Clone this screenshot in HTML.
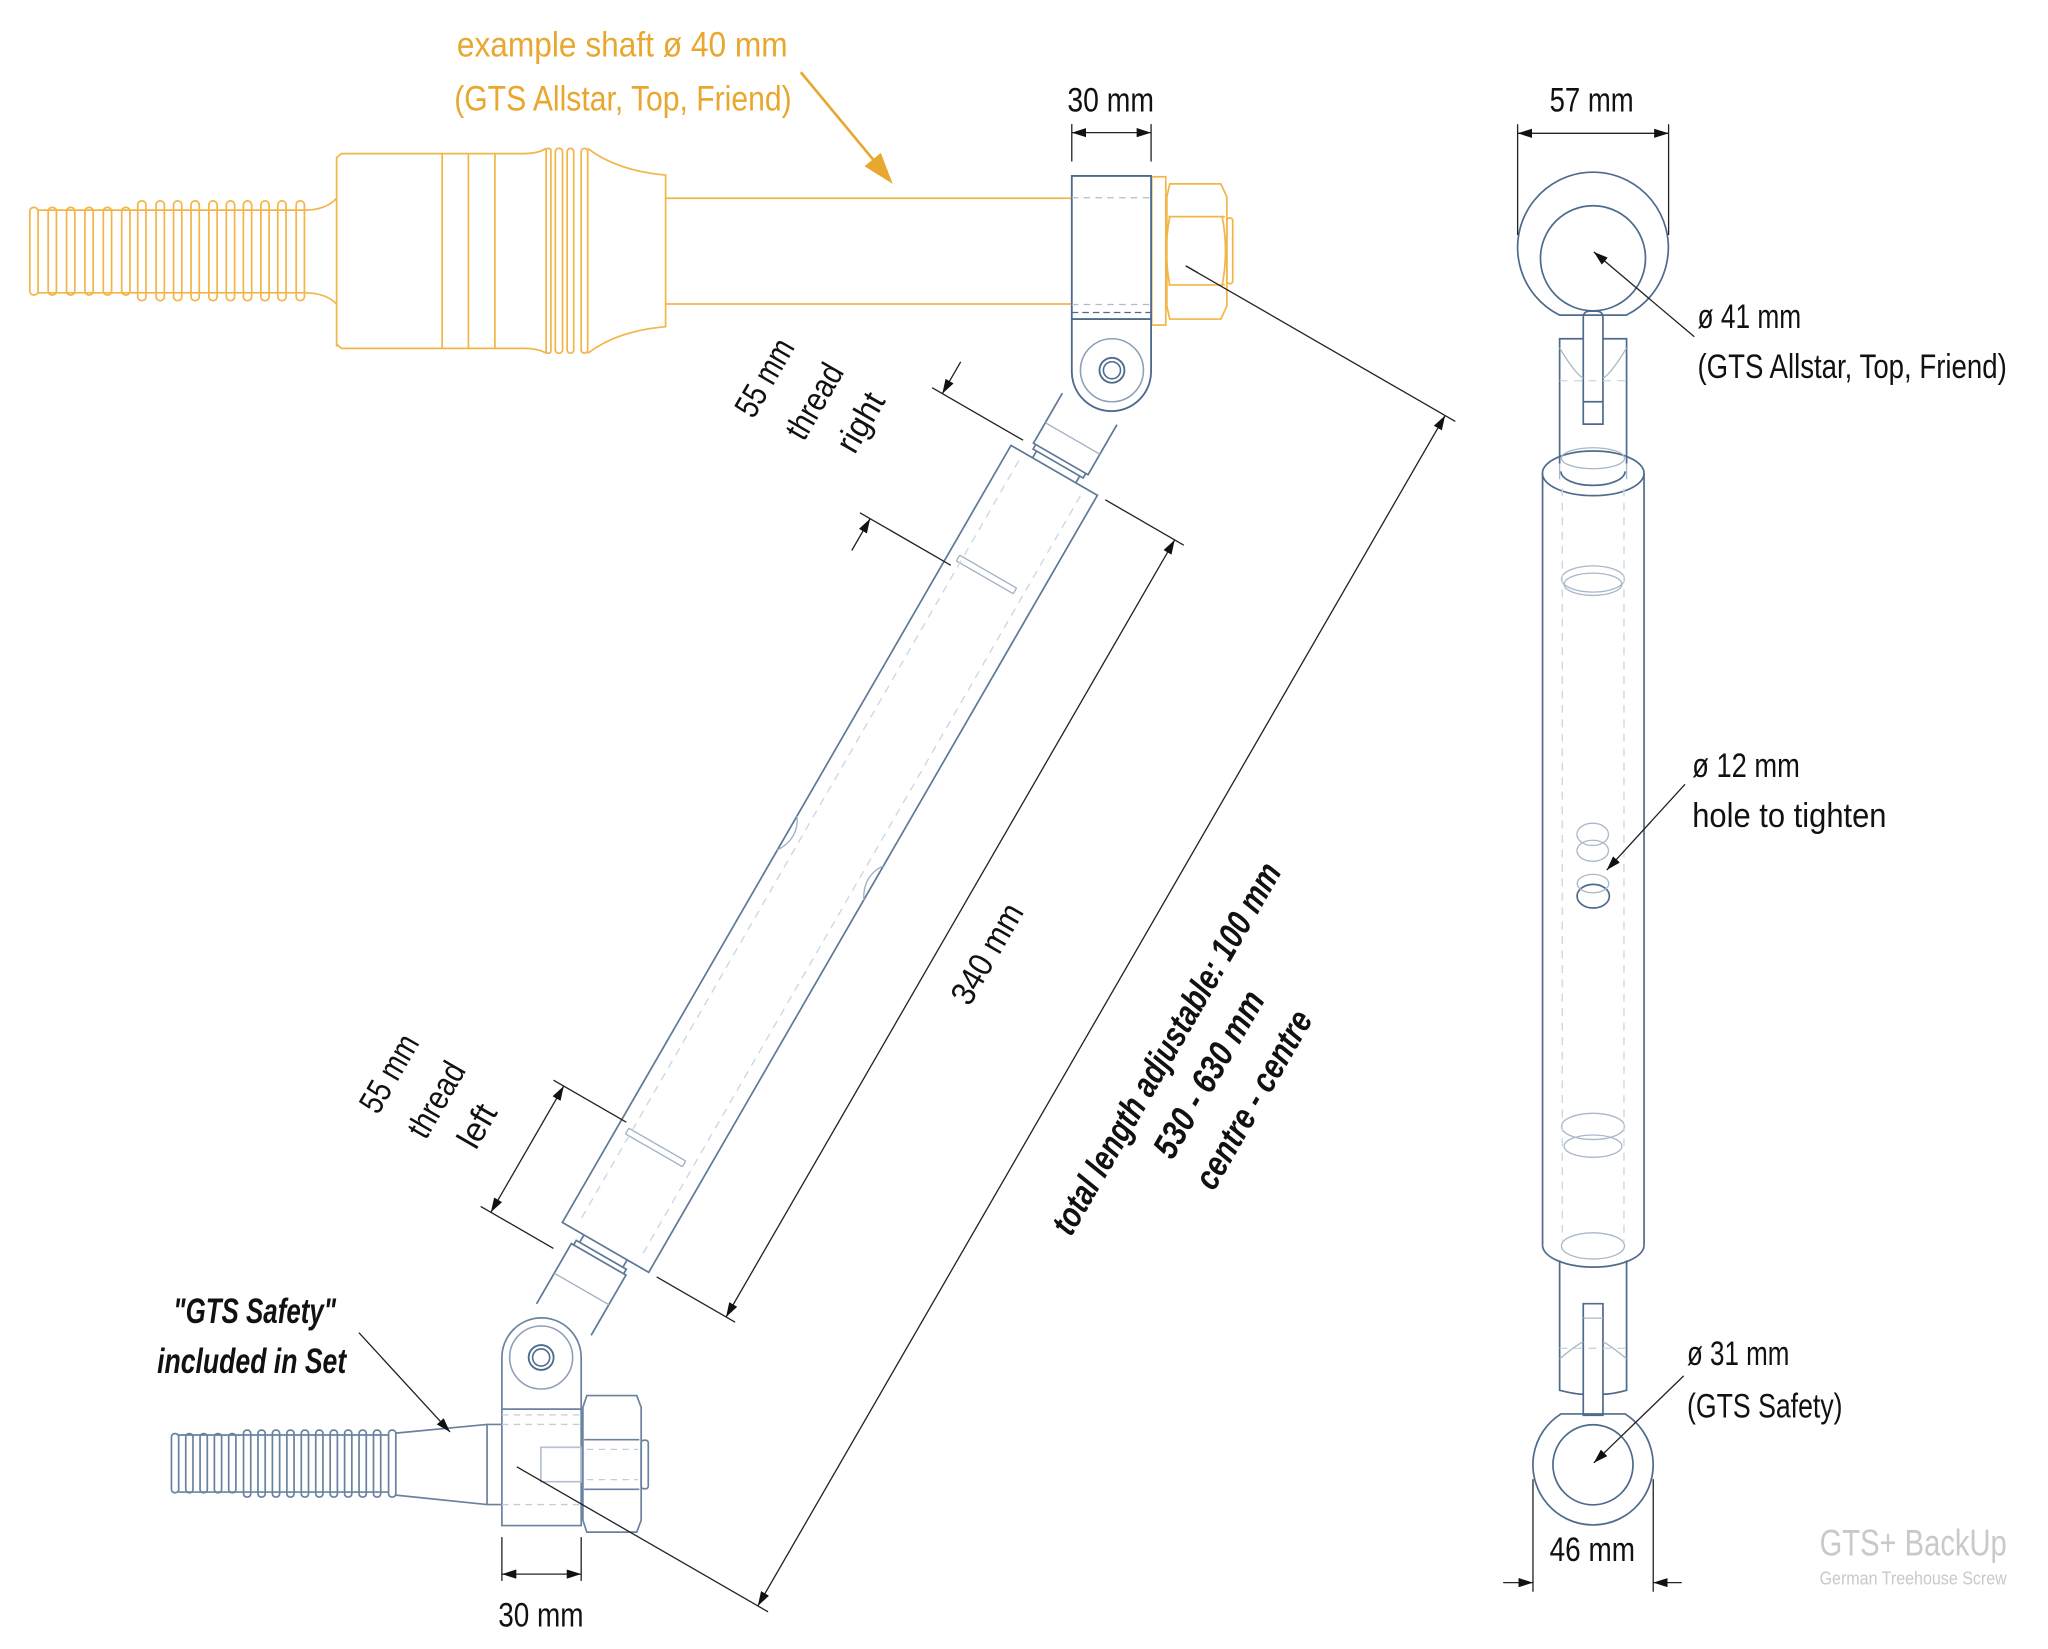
<!DOCTYPE html>
<html><head><meta charset="utf-8"><style>
html,body{margin:0;padding:0;background:#fff}
svg{display:block}
text{font-family:"Liberation Sans Narrow","Liberation Sans",sans-serif}
</style></head><body>
<svg width="2048" height="1649" viewBox="0 0 1560 1256" xmlns="http://www.w3.org/2000/svg">
<defs>
<marker id="a" markerUnits="userSpaceOnUse" markerWidth="11" markerHeight="7" refX="11" refY="3.5" orient="auto-start-reverse"><path d="M0,0 L11,3.5 L0,7 z" fill="#111"/></marker>
</defs>
<rect width="1560" height="1256" fill="#fff"/>

<!-- ===== Yellow shaft ===== -->
<g fill="none" stroke="#F2B547" stroke-width="1.3">
<g>
<rect x="22.7" y="157.9" width="6.3" height="66.8" rx="3"/>
<rect x="36.7" y="157.9" width="6.3" height="66.8" rx="3"/>
<rect x="50.7" y="157.9" width="6.3" height="66.8" rx="3"/>
<rect x="64.7" y="157.9" width="6.3" height="66.8" rx="3"/>
<rect x="78.7" y="157.9" width="6.3" height="66.8" rx="3"/>
<rect x="92.7" y="157.9" width="6.3" height="66.8" rx="3"/>
<rect x="104.9" y="153" width="6.3" height="76" rx="3"/>
<rect x="118.9" y="153" width="6.3" height="76" rx="3"/>
<rect x="132.2" y="153" width="6.3" height="76" rx="3"/>
<rect x="145.5" y="153" width="6.3" height="76" rx="3"/>
<rect x="159.1" y="153" width="6.3" height="76" rx="3"/>
<rect x="172.4" y="153" width="6.3" height="76" rx="3"/>
<rect x="185.4" y="153" width="6.3" height="76" rx="3"/>
<rect x="198.7" y="153" width="6.3" height="76" rx="3"/>
<rect x="211.6" y="153" width="6.3" height="76" rx="3"/>
<rect x="225.6" y="153" width="6.3" height="76" rx="3"/>
<line x1="29" y1="160" x2="232" y2="160"/>
<line x1="29" y1="223" x2="232" y2="223"/>
</g>
<path d="M232,160 Q248,160 256.4,151 M232,223 Q248,223 256.4,231.5"/>
<path d="M256.4,264 L256.4,120 L260,117 L398.7,117 Q410,117 416,113 M256.4,262 L260,265.3 L398.7,265.3 Q410,265.3 416,269"/>
<line x1="336.8" y1="117" x2="336.8" y2="265"/>
<line x1="356.8" y1="117" x2="356.8" y2="265"/>
<line x1="377" y1="117" x2="377" y2="265"/>
<rect x="416" y="113" width="3.6" height="156" rx="1.5"/>
<rect x="423" y="113" width="5.5" height="156" rx="2.5"/>
<rect x="432" y="113" width="5" height="156" rx="2.5"/>
<rect x="442.7" y="113" width="5" height="156" rx="2.5"/>
<path d="M447.7,113 Q470,130 507,133.3 L507,248.8 Q470,252 447.7,269.1"/>
<line x1="507" y1="151" x2="816" y2="151"/>
<line x1="507" y1="231.5" x2="816" y2="231.5"/>
<rect x="877.3" y="134.6" width="10.7" height="113"/>
<path d="M891,140 L930,140 L934.5,150 L934.5,233 L930,243 L891,243 L888.8,233 L888.8,150 Z"/>
<path d="M890,165 L933,165 M890,217 L933,217 M891,165 Q886,191 891,217 M931,165 Q936,191 931,217"/>
<rect x="934.5" y="166" width="4.5" height="50" rx="2"/>
</g>
<g fill="#E8A72E" font-size="27">
<text x="348" y="43" textLength="252" lengthAdjust="spacingAndGlyphs">example shaft ø 40 mm</text>
<text x="346" y="84" textLength="257" lengthAdjust="spacingAndGlyphs">(GTS Allstar, Top, Friend)</text>
</g>
<line x1="610" y1="55" x2="668" y2="125" stroke="#E8A72E" stroke-width="2"/>
<polygon points="680,140 658.5,126.6 670.9,116.4" fill="#E8A72E"/>

<!-- ===== Top collar ===== -->
<g stroke="#4F6B8C" stroke-width="1.4" fill="#fff">
<path d="M816.4,134 L876.8,134 L876.8,283 A30.2,30.2 0 0 1 816.4,283 Z" fill="none"/>
<line x1="816.4" y1="243" x2="876.8" y2="243"/>
</g>
<g stroke="#AFBCCC" stroke-width="1" fill="none" stroke-dasharray="5,4">
<line x1="816.4" y1="150.6" x2="876.8" y2="150.6"/>
<line x1="816.4" y1="231.9" x2="876.8" y2="231.9"/>
</g>
<line x1="816.4" y1="238" x2="876.8" y2="238" stroke="#4F6B8C" stroke-width="1" stroke-dasharray="5,3"/>

<!-- ===== Bottom collar ===== -->
<g stroke="#6A82A0" stroke-width="1.3" fill="none">
<path d="M382.3,1162 L382.3,1034 A30.2,30.2 0 0 1 442.7,1034 L442.7,1162 Z"/>
<line x1="382.3" y1="1073.3" x2="442.7" y2="1073.3"/>
<rect x="412" y="1102.4" width="30.5" height="26.2" stroke="#B5C1D0"/>
<path d="M447,1063 L485,1063 L488.4,1072 L488.4,1158 L485,1167 L447,1167 L444,1158 L444,1072 Z"/>
<path d="M445,1096.6 L487,1096.6 M445,1134.4 L487,1134.4"/>
<rect x="488.4" y="1097" width="5.4" height="37" rx="2"/>
<rect x="130.6" y="1092" width="5.5" height="45" rx="2.5"/>
<rect x="141.5" y="1092" width="5.5" height="45" rx="2.5"/>
<rect x="152.4" y="1092" width="5.5" height="45" rx="2.5"/>
<rect x="163.3" y="1092" width="5.5" height="45" rx="2.5"/>
<rect x="174.2" y="1092" width="5.5" height="45" rx="2.5"/>
<rect x="185.5" y="1089.3" width="5.5" height="51" rx="2.5"/>
<rect x="196.5" y="1089.3" width="5.5" height="51" rx="2.5"/>
<rect x="207.5" y="1089.3" width="5.5" height="51" rx="2.5"/>
<rect x="218.5" y="1089.3" width="5.5" height="51" rx="2.5"/>
<rect x="229.5" y="1089.3" width="5.5" height="51" rx="2.5"/>
<rect x="240.5" y="1089.3" width="5.5" height="51" rx="2.5"/>
<rect x="251.5" y="1089.3" width="5.5" height="51" rx="2.5"/>
<rect x="262.5" y="1089.3" width="5.5" height="51" rx="2.5"/>
<rect x="273.5" y="1089.3" width="5.5" height="51" rx="2.5"/>
<rect x="284.5" y="1089.3" width="5.5" height="51" rx="2.5"/>
<rect x="296" y="1089.3" width="5.5" height="51" rx="2.5"/>
<line x1="136" y1="1093" x2="296" y2="1093"/>
<line x1="136" y1="1136.5" x2="296" y2="1136.5"/>
<path d="M301.5,1091.6 L371,1085 L382.3,1085 M301.5,1138.8 L371,1146 L382.3,1146 M371,1085 L371,1146"/>
</g>
<g stroke="#C3CDD9" stroke-width="1" fill="none" stroke-dasharray="5,4">
<line x1="382.3" y1="1077.7" x2="442.7" y2="1077.7"/>
<line x1="382.3" y1="1085" x2="442.7" y2="1085"/>
<line x1="382.3" y1="1146" x2="442.7" y2="1146"/>
<line x1="447" y1="1104" x2="486" y2="1104"/>
<line x1="447" y1="1127" x2="486" y2="1127"/>
</g>

<!-- ===== Diagonal turnbuckle ===== -->
<g transform="translate(847,282) rotate(30)">
<g stroke="#5E7898" stroke-width="1.3" fill="none">
<rect x="-38" y="88" width="76" height="683.5"/>
<path d="M-24,34 L-24,78 L24,78 L24,34"/>
<path d="M-22,78 L-22,82 L22,82 L22,78 M-19,82 L-19,88 M19,82 L19,88"/>
<path d="M-24,835 L-24,782 L24,782 L24,835"/>
<path d="M-22,782 L-22,778 L22,778 L22,782 M-19,778 L-19,771.5 M19,778 L19,771.5"/>
</g>
<g stroke="#9FB0C4" stroke-width="1" fill="none">
<line x1="-24" y1="60" x2="24" y2="60"/>
<line x1="-24" y1="808" x2="24" y2="808"/>
<path d="M-30,180 L20,180 M-30,185 L20,185 M-30,180 L-30,185 M20,180 L20,185"/>
<path d="M-30,684 L20,684 M-30,689 L20,689 M-30,684 L-30,689 M20,684 L20,689"/>
<path d="M-38,414 Q-28,428 -38,444"/>
<path d="M38,414 Q28,428 38,444"/>
</g>
<g stroke="#CCD5E0" stroke-width="1" fill="none" stroke-dasharray="6,5">
<line x1="-27" y1="95" x2="-27" y2="765"/>
<line x1="27" y1="95" x2="27" y2="765"/>
</g>
<g stroke="#222" stroke-width="1" fill="none">
<line x1="45" y1="88" x2="114" y2="88"/>
<line x1="45" y1="771.5" x2="114" y2="771.5"/>
<line x1="106" y1="88" x2="106" y2="771.5" marker-start="url(#a)" marker-end="url(#a)"/>
<line x1="9" y1="-97" x2="246" y2="-97"/>
<line x1="25" y1="950" x2="246" y2="950"/>
<line x1="237" y1="-97" x2="237" y2="950" marker-start="url(#a)" marker-end="url(#a)"/>
<line x1="-112" y1="80" x2="-32" y2="80"/>
<line x1="-112" y1="190" x2="-32" y2="190"/>
<line x1="-103" y1="52" x2="-103" y2="80" marker-end="url(#a)"/>
<line x1="-103" y1="218" x2="-103" y2="190" marker-end="url(#a)"/>
<line x1="-98" y1="681" x2="-34" y2="681"/>
<line x1="-98" y1="792" x2="-34" y2="792"/>
<line x1="-89" y1="681" x2="-89" y2="792" marker-start="url(#a)" marker-end="url(#a)"/>
</g>
</g>

<g fill="none">
<circle cx="847" cy="282" r="24" stroke="#8DA0B8" stroke-width="1.2"/>
<circle cx="847" cy="282" r="9.5" stroke="#4F6B8C" stroke-width="1.4"/>
<circle cx="847" cy="282" r="6.5" stroke="#4F6B8C" stroke-width="1.2"/>
<circle cx="412.2" cy="1034" r="24" stroke="#8DA0B8" stroke-width="1.2"/>
<circle cx="412.2" cy="1034" r="9.5" stroke="#4F6B8C" stroke-width="1.4"/>
<circle cx="412.2" cy="1034" r="6.5" stroke="#4F6B8C" stroke-width="1.2"/>
</g>
<line x1="903.2" y1="202.4" x2="912" y2="207.5" stroke="#222" stroke-width="1"/>

<g stroke="#222" stroke-width="1" fill="none">
<line x1="816.4" y1="94.5" x2="816.4" y2="123"/>
<line x1="876.8" y1="94.5" x2="876.8" y2="123"/>
<line x1="816.4" y1="101" x2="876.8" y2="101" marker-start="url(#a)" marker-end="url(#a)"/>
<line x1="382.3" y1="1170.8" x2="382.3" y2="1204.2"/>
<line x1="442.7" y1="1170.8" x2="442.7" y2="1204.2"/>
<line x1="382.3" y1="1199" x2="442.7" y2="1199" marker-start="url(#a)" marker-end="url(#a)"/>
<line x1="273.4" y1="1015.1" x2="342.8" y2="1090.7" marker-end="url(#a)"/>
</g>

<g fill="#111" font-size="26">
<text x="813" y="85" textLength="66" lengthAdjust="spacingAndGlyphs">30 mm</text>
<text x="379.5" y="1239" textLength="65" lengthAdjust="spacingAndGlyphs">30 mm</text>
<g transform="translate(752.5,726.8) rotate(-60)"><text x="0" y="8" text-anchor="middle" textLength="84" lengthAdjust="spacingAndGlyphs">340 mm</text></g>
<g transform="translate(583,288) rotate(-60)"><text x="0" y="8" text-anchor="middle" textLength="64" lengthAdjust="spacingAndGlyphs">55 mm</text></g>
<g transform="translate(621,306) rotate(-60)"><text x="0" y="8" text-anchor="middle" textLength="62" lengthAdjust="spacingAndGlyphs">thread</text></g>
<g transform="translate(656,322) rotate(-60)"><text x="0" y="8" text-anchor="middle" textLength="48" lengthAdjust="spacingAndGlyphs">right</text></g>
<g transform="translate(297,818) rotate(-60)"><text x="0" y="8" text-anchor="middle" textLength="64" lengthAdjust="spacingAndGlyphs">55 mm</text></g>
<g transform="translate(333,838) rotate(-60)"><text x="0" y="8" text-anchor="middle" textLength="62" lengthAdjust="spacingAndGlyphs">thread</text></g>
<g transform="translate(364,858) rotate(-60)"><text x="0" y="8" text-anchor="middle" textLength="34" lengthAdjust="spacingAndGlyphs">left</text></g>
</g>
<g fill="#111" font-size="27" font-weight="bold" font-style="italic">
<text x="132" y="1007.8" textLength="124" lengthAdjust="spacingAndGlyphs">"GTS Safety"</text>
<text x="119.7" y="1045.7" textLength="144" lengthAdjust="spacingAndGlyphs">included in Set</text>
<g transform="translate(888.5,798.7) rotate(-60)"><text x="0" y="9" text-anchor="middle" textLength="322" lengthAdjust="spacingAndGlyphs">total length adjustable: 100 mm</text></g>
<g transform="translate(920.8,818.2) rotate(-60)"><text x="0" y="9" text-anchor="middle" textLength="142" lengthAdjust="spacingAndGlyphs">530 - 630 mm</text></g>
<g transform="translate(954.8,837.6) rotate(-60)"><text x="0" y="9" text-anchor="middle" textLength="152" lengthAdjust="spacingAndGlyphs">centre - centre</text></g>
</g>

<!-- ===== Right view ===== -->
<g stroke="#4F6B8C" stroke-width="1.3" fill="none">
<path d="M1188,240 A57.4,57.4 0 1 1 1238.8,240 Z"/>
<circle cx="1213.4" cy="196.7" r="40"/>
<path d="M1206,323 L1206,242 Q1206,237 1211,237 L1216,237 Q1221,237 1221,242 L1221,323 Z"/>
<line x1="1206" y1="306" x2="1221" y2="306"/>
<path d="M1206,258 L1188,258 L1188,353 M1221,258 L1239,258 L1239,353"/>
<path d="M1175,360.5 L1175,949 M1252.3,360.5 L1252.3,949"/>
<ellipse cx="1213.6" cy="360.5" rx="38.7" ry="17"/>
<path d="M1175,949 A38.7,17 0 0 0 1252.3,949"/>
<path d="M1189,359 A24.4,10.7 0 0 0 1237.8,359"/>
<path d="M1188,960 L1188,1059 Q1200,1062 1206,1062 M1239,960 L1239,1059 Q1228,1062 1221,1062"/>
<path d="M1206,993 L1221,993 L1221,1078 L1206,1078 Z"/>
<path d="M1189,1077 A45.8,45.8 0 1 0 1237.9,1077 Z"/>
<circle cx="1213.4" cy="1115.7" r="30.5"/>
<ellipse cx="1213.6" cy="682.6" rx="12.3" ry="9"/>
</g>
<g stroke="#A9B7C9" stroke-width="1" fill="none">
<path d="M1188,265 Q1200,285 1206,288 M1239,265 Q1227,285 1221,288"/>
<path d="M1188,353 L1188,365 M1239,353 L1239,365"/>
<ellipse cx="1213.4" cy="441" rx="24" ry="10"/>
<ellipse cx="1213.4" cy="445" rx="22" ry="8.5"/>
<ellipse cx="1213.4" cy="349" rx="24" ry="8"/>
<ellipse cx="1213.4" cy="858" rx="24" ry="10"/>
<ellipse cx="1213.4" cy="873" rx="22" ry="8.5"/>
<ellipse cx="1213.4" cy="949" rx="24" ry="10"/>
<path d="M1188,1035 Q1200,1025 1206,1022 M1239,1035 Q1227,1025 1221,1022"/>
<line x1="1206" y1="1004" x2="1221" y2="1004"/>
<ellipse cx="1213.2" cy="635.5" rx="12" ry="8.5"/>
<ellipse cx="1213.2" cy="648" rx="12" ry="8"/>
<ellipse cx="1213.4" cy="673" rx="12" ry="7"/>
</g>
<g stroke="#CCD5E0" stroke-width="1" fill="none" stroke-dasharray="6,5">
<line x1="1190" y1="372" x2="1190" y2="945"/>
<line x1="1237" y1="372" x2="1237" y2="945"/>
<line x1="1188" y1="290" x2="1239" y2="290"/>
<line x1="1188" y1="1027" x2="1239" y2="1027"/>
</g>
<g stroke="#222" stroke-width="1" fill="none">
<line x1="1156" y1="94.6" x2="1156" y2="179"/>
<line x1="1271" y1="94.6" x2="1271" y2="179"/>
<line x1="1156" y1="101.5" x2="1271" y2="101.5" marker-start="url(#a)" marker-end="url(#a)"/>
<line x1="1167.7" y1="1126.7" x2="1167.7" y2="1212.4"/>
<line x1="1259.3" y1="1126.7" x2="1259.3" y2="1212.4"/>
<line x1="1145" y1="1205.5" x2="1167.7" y2="1205.5" marker-end="url(#a)"/>
<line x1="1281" y1="1205.5" x2="1259.3" y2="1205.5" marker-end="url(#a)"/>
<line x1="1290.6" y1="256.5" x2="1214" y2="191.8" marker-end="url(#a)"/>
<line x1="1283.5" y1="597.4" x2="1223.9" y2="662.7" marker-end="url(#a)"/>
<line x1="1282.5" y1="1048" x2="1214" y2="1114.3" marker-end="url(#a)"/>
</g>
<g fill="#111" font-size="26">
<text x="1180.4" y="85" textLength="64" lengthAdjust="spacingAndGlyphs">57 mm</text>
<text x="1293" y="249.7" textLength="79" lengthAdjust="spacingAndGlyphs">ø 41 mm</text>
<text x="1293" y="287.8" textLength="235.6" lengthAdjust="spacingAndGlyphs">(GTS Allstar, Top, Friend)</text>
<text x="1289" y="592" textLength="82" lengthAdjust="spacingAndGlyphs">ø 12 mm</text>
<text x="1289" y="630" textLength="148" lengthAdjust="spacingAndGlyphs">hole to tighten</text>
<text x="1285" y="1039.7" textLength="78" lengthAdjust="spacingAndGlyphs">ø 31 mm</text>
<text x="1285" y="1079.8" textLength="118.5" lengthAdjust="spacingAndGlyphs">(GTS Safety)</text>
<text x="1180.4" y="1189" textLength="65" lengthAdjust="spacingAndGlyphs">46 mm</text>
</g>
<g fill="#C9C9C9">
<text x="1386" y="1184.8" font-size="28" textLength="142.6" lengthAdjust="spacingAndGlyphs">GTS+ BackUp</text>
<text x="1386" y="1206.9" font-size="14" textLength="142.6" lengthAdjust="spacingAndGlyphs">German Treehouse Screw</text>
</g>
</svg>
</body></html>
